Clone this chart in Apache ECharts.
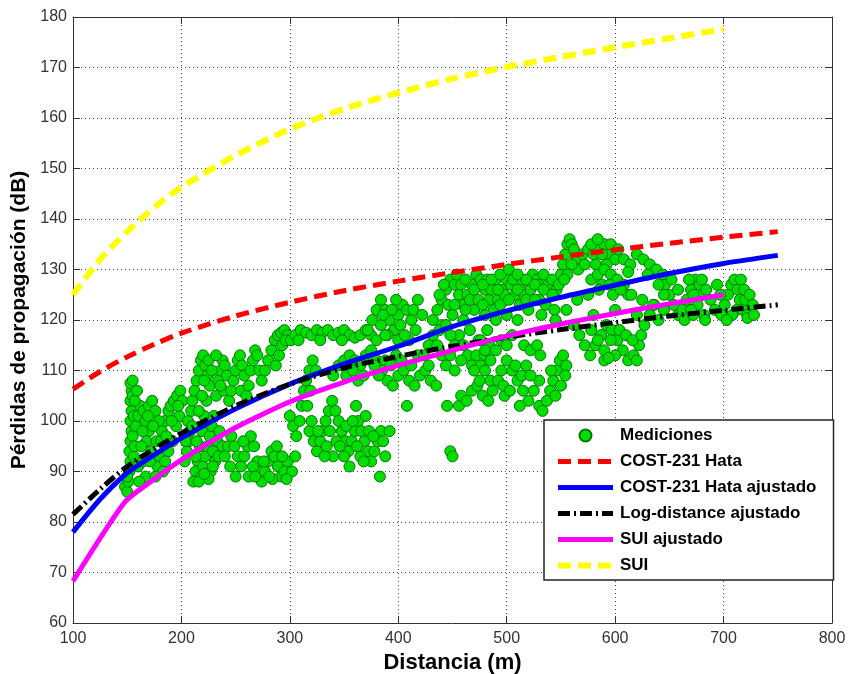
<!DOCTYPE html>
<html>
<head>
<meta charset="utf-8">
<script src="https://cdn.jsdelivr.net/npm/echarts@6/dist/echarts.min.js"></script>
<style>
  html, body { margin: 0; padding: 0; background: #fff; }
  #chart { width: 848px; height: 674px; }
</style>
</head>
<body>
<div id="chart"></div>
<script>
// distancias de los modelos (m)
const distModelos = [100, 125, 150, 175, 200, 250, 300, 350, 400, 450, 500, 550, 600, 650, 700, 750];
const costHata     = [106.3, 109.8, 112.7, 115.2, 117.4, 120.8, 123.5, 125.8, 127.7, 129.4, 131.0, 132.5, 133.9, 135.2, 136.4, 137.5];
const costHataAj   = [78.0, 84.5, 89.7, 93.3, 96.6, 102.4, 107.3, 111.3, 114.8, 118.7, 121.8, 124.5, 126.9, 129.2, 131.2, 132.8];
const logDistAj    = [81.5, 86.5, 91.0, 94.5, 97.6, 103.0, 107.3, 110.5, 112.8, 114.8, 116.6, 118.1, 119.5, 120.8, 121.9, 123.0];

const distSui  = [100, 125, 150, 175, 200, 250, 300, 350, 400, 450, 500, 550, 600, 650, 700];
const sui      = [125.0, 132.0, 137.5, 142.3, 146.3, 152.6, 157.8, 161.8, 165.0, 167.8, 170.1, 172.1, 174.0, 175.8, 177.6];

const distSuiAj = [100, 148, 175, 200, 250, 300, 350, 400, 450, 500, 550, 600, 650, 700];
const suiAj     = [68.3, 84.0, 88.5, 92.3, 98.7, 103.8, 107.7, 111.0, 114.0, 116.8, 119.2, 121.3, 123.2, 125.0];

const nombres = ['Mediciones', 'COST-231 Hata', 'COST-231 Hata ajustado', 'Log-distance ajustado', 'SUI ajustado', 'SUI'];

// mediciones [distancia, perdidas]
const mediciones = [
  [148,87],[150,86],[151,88],[152,90],[153,92],[152,94],[153,96],[154,98],[153,100],[154,102],
  [153,104],[154,106],[153,107.5],[155,108],[155,105],[156,101],[155,97],[150,89],[156,93],[157,95],
  [158,99],[160,101],[162,103],[165,102],[167,100],[170,98],[168,96],[172,94],[175,92],[178,91],
  [180,93],[177,96],[182,98],[185,100],[188,102],[190,103],[193,104],[196,105],[199,106],[201,104],
  [198,101],[195,99],[192,96],[188,94],[185,92],[183,90],[170,103],[173,104],[176,102],[179,100],
  [163,95],[160,91],[165,92],[167,89],
  [157,104],[159,106],[164,98],[169,101],[174,99],[181,96],[186,97],[191,100],[197,103],[171,92],
  [176,89],[161,88],
  [203,92],[205,94],[207,96],[208,98],[206,100],[209,102],[210,104],[212,106],[214,108],[216,110],
  [218,112],[220,113],[222,111],[224,109],[226,107],[223,104],[221,101],[219,98],[217,95],[215,92],
  [213,90],[211,88],[218,89],[220,91],[222,93],[224,95],[226,97],[228,99],[230,101],[229,94],
  [231,92],[227,90],[225,88.5],[233,96],[235,98],[232,105],[234,108],[236,110],[238,112],[240,111],
  [242,109],[239,106],[244,104],[246,106],[248,108],[250,110],[252,112],[254,113],[256,111],[258,109],
  [255,106],[260,105],[262,107],[264,110],[266,112],[268,114],[270,113],[272,110],
  [204,96],[210,99],[214,96],[216,102],[219,105],[221,108],[225,112],[228,110],[232,113],[236,107],
  [213,93],[216,88],[221,89.5],[229,91],[234,93],[238,95],
  [240,93],[243,95],[246,97],[249,95],[252,93],[255,91],[258,93],[261,95],[264,97],[267,95],
  [270,92],[272,90],[274,88],[277,90],[280,92],[283,94],[286,93],[289,91],[292,89],[295,90],
  [298,92],[262,89],[266,91],[284,88.5],[302,90],[305,93],
  [245,91],[250,89],[257,96],[268,89],[276,92],[281,89],[288,95],[293,93],[297,88.5],
  [274,108],[277,110],[280,112],[283,114],[286,116],[289,117],[292,117.5],[295,118],[298,117],[287,111],
  [290,113],[293,115],[296,116],
  [301,116],[305,117],[310,118],[315,117.5],[320,117],[325,118],[330,117.5],[335,118],[340,117],[345,117.5],
  [350,118],[355,117],[360,116.5],[365,117],[370,118],[375,117],[308,116],[328,116],[348,116],
  [300,101],[303,99],[306,97],[309,100],[311,103],[313,106],[315,108],[318,110],[321,112],[324,110],
  [318,98],[322,96],[325,94],[328,96],[330,98],[333,100],[336,102],[339,104],[342,102],[345,100],
  [348,98],[351,96],[354,94],[357,96],[360,98],[363,100],[366,98],[369,96],[372,94],[375,92],
  [378,94],[381,96],[384,98],[334,95],[343,96],[352,99],[361,103],[370,101],[340,93],[355,91],
  [365,93],[383,89],[392,98],
  [320,100],[326,98],[332,93],[337,98],[346,95],[350,93],[358,100],[362,95],[368,92],[373,98],
  [377,97],[386,96],[388,93],[316,103],[319,106],
  [340,109],[345,111],[350,112],[355,113],[360,112],[365,111],[370,113],[375,114],[380,112],[385,110],
  [390,108],[395,107],[400,109],[405,110],[410,108],[415,107],[420,109],[425,110],[430,108],[435,107],
  [352,109],[358,110],[363,108],[368,109],[378,111],[382,109],[388,112],[393,111],[398,113],[403,112],
  [412,111],[418,113],
  [372,118],[376,120],[380,122],[384,124],[388,122],[392,120],[396,118],[400,121],[404,123],[408,122],
  [412,120],[416,118],[380,116],[390,117],[400,116],[410,116],
  [384,119],[388,117],[394,122],[398,124],[402,119],[406,117],[414,122],[418,124],[422,121],[386,121],
  [408,103],[448,94],[450,93],[445,103],[456,103],
  [432,120],[436,122],[440,124],[444,126],[448,128],[452,127],[456,125],[460,123],[464,125],[468,127],
  [472,129],[476,128],[480,126],[484,124],[488,122],[492,124],[496,126],[500,128],[504,127],[508,125],
  [512,123],[516,125],[520,127],[524,129],[528,128],[440,119],[450,121],[460,120],[470,122],[480,121],
  [490,120],[500,121],[510,120],[520,122],[530,124],
  [438,125],[442,127],[446,123],[454,129],[458,127],[462,128],[466,124],[470,126],[474,124],[478,123],
  [482,128],[486,126],[490,128],[494,123],[498,125],[502,124],[506,128],[510,126],[514,128],[518,124],
  [522,126],[526,124],[530,127],[534,129],[538,127],[542,128],[546,126],[452,123],[462,122],[492,126],
  [532,121],
  [424,113],[428,115],[432,117],[436,115],[440,113],[444,111],[448,113],[452,115],[456,117],[460,115],
  [464,113],[468,111],[472,113],[476,111],[480,113],[484,115],[428,111],[438,118],[448,117],[458,112],
  [466,118],[474,116],[482,118],[444,119],[452,110],
  [458,105],[463,104],[468,106],[473,107],[478,105],[483,104],[487,106],[470,110],[475,108],[480,110],
  [485,108],
  [495,110],[500,112],[505,110],[510,108],[515,106],[520,104],[525,106],[530,108],[498,105],[512,103],
  [492,108],[497,107],[503,106],[508,111],[514,109],[518,111],[522,109],
  [516,115],[522,114],[528,115],[531,113],
  [476,116],[480,114],[485,112],[490,114],[495,116],[500,115],[505,117],
  [530,103],[533,102],[537,104],[540,106],[543,108],[546,110],[549,112],[552,113],[555,111],
  [541,110],[545,105],[550,107],[554,109],
  [548,127],[550,129],[552,131],[554,133],[556,135],[558,136],[560,135],[562,134],[564,132],[566,130],
  [560,131],[556,129],[553,128],
  [570,133],[575,134],[580,133],[585,134],[590,135],[595,133],[600,132],[572,131],[582,131],[592,131],
  [578,135],[584,136],[588,133],[596,135],[603,134],
  [478,127],[486,128],[494,129],[502,130],[510,129],[518,128],[526,127],[534,126],[542,125],[536,123],
  [544,122],
  [608,132],[614,131],[620,133],[626,132],[632,131],[638,130],[644,129],[612,129.5],[630,129],
  [578,128],[584,129],[590,130],[596,129],[602,128],[608,127],[612,125],[588,127],[598,125],
  [646,127],[650,125],[654,123],[658,121],[662,122],[666,124],[670,126],[674,128],[678,127],[680,125],
  [664,120],[672,121],
  [640,127],[645,125],[652,128],[658,126],[668,128],[672,125],[676,123],[680,128],[684,126],[688,124],
  [692,122],[670,122],[682,121],[683,120],
  [698,121],[701,123],[704,125],[707,127],[710,128],[713,126],[715,124],[712,122],[708,121],[703,120],
  [718,122],[720,124],[722,121],
  [694,127],[697,125],[716,128],[719,126],[724,125],[727,123],[722,120.4],[728,121],
  [562,119],[567,117],[572,115],[577,113],[582,115],[587,117],[592,119],[597,118],[602,116],[607,114],
  [612,112],[617,113],[622,115],[600,113],[590,112],
  [578,118],[584,116],[590,114],[596,116],[604,118],[610,117],[616,116],[620,112],[624,117],[594,112.5],
  [627,119],[632,121],[636,123],
  [545,120],[555,122],[565,124],[575,125],[585,126],[595,127],[605,126],[615,125],[625,124],[635,123],
  [645,122],[580,121],[600,122],[620,121],[640,120]
];

function pares(xs, ys) {
  return xs.map((x, i) => [x, ys[i]]);
}

const chart = echarts.init(document.getElementById('chart'));

const ejeX = {
  type: 'value', min: 100, max: 800, interval: 100,
  axisLine: { show: true, onZero: false, lineStyle: { color: '#333', width: 1 } },
  axisTick: { show: true, inside: true, length: 7, lineStyle: { color: '#333' } }
};
const ejeY = {
  type: 'value', min: 60, max: 180, interval: 10,
  axisLine: { show: true, onZero: false, lineStyle: { color: '#333', width: 1 } },
  axisTick: { show: true, inside: true, length: 7, lineStyle: { color: '#333' } }
};

// leyenda: lineas sin simbolo
const anchoLeyenda = [0, 5, 5, 5, 5, 6];
const datosLeyenda = nombres.map((n, i) => i === 0 ? { name: n } : {
  name: n,
  itemStyle: { opacity: 0 },
  lineStyle: { width: anchoLeyenda[i] }
});

chart.setOption({
  animation: false,
  backgroundColor: '#fff',
  grid: { left: 73, right: 16, top: 17, bottom: 51, outerBoundsMode: 'none' },
  xAxis: [
    Object.assign({}, ejeX, {
      position: 'bottom',
      name: 'Distancia (m)', nameLocation: 'middle', nameGap: 27,
      nameTextStyle: { fontFamily: 'Liberation Sans', fontSize: 22, fontWeight: 'bold', color: '#000' },
      axisLabel: { margin: 8, fontFamily: 'Liberation Sans', fontSize: 16, color: '#333' },
      splitLine: { show: true, lineStyle: { type: [1, 3], color: '#444' } }
    }),
    Object.assign({}, ejeX, { position: 'top', axisLabel: { show: false }, splitLine: { show: false } })
  ],
  yAxis: [
    Object.assign({}, ejeY, {
      position: 'left',
      name: 'Pérdidas de propagación (dB)', nameLocation: 'middle', nameGap: 38,
      nameTextStyle: { fontFamily: 'Liberation Sans', fontSize: 21, fontWeight: 'bold', color: '#000' },
      axisLabel: { margin: 6, fontFamily: 'Liberation Sans', fontSize: 16, color: '#333' },
      splitLine: { show: true, lineStyle: { type: [1, 3], color: '#444' } }
    }),
    Object.assign({}, ejeY, { position: 'right', axisLabel: { show: false }, splitLine: { show: false } })
  ],
  legend: {
    orient: 'vertical',
    left: 544, top: 420,
    backgroundColor: '#fff',
    borderColor: '#222', borderWidth: 1.5, borderRadius: 0,
    padding: [7, 17, 6, 11],
    itemWidth: 55, itemHeight: 12, itemGap: 9,
    textStyle: { fontFamily: 'Liberation Sans', fontSize: 17, fontWeight: 'bold', color: '#000', lineHeight: 16, padding: [0, 0, 0, 2] },
    data: datosLeyenda
  },
  series: [
    {
      name: nombres[0], type: 'scatter', symbol: 'circle', symbolSize: 11,
      itemStyle: { color: '#00dd00', borderColor: '#007a00', borderWidth: 1, opacity: 1 },
      data: mediciones
    },
    {
      name: nombres[1], type: 'line', showSymbol: false, symbol: 'none', smooth: 0.3,
      lineStyle: { color: '#ff0000', width: 5, type: [13, 7], cap: 'butt' },
      itemStyle: { color: '#ff0000' },
      data: pares(distModelos, costHata)
    },
    {
      name: nombres[2], type: 'line', showSymbol: false, symbol: 'none', smooth: 0.3,
      lineStyle: { color: '#0000ff', width: 5 },
      itemStyle: { color: '#0000ff' },
      data: pares(distModelos, costHataAj)
    },
    {
      name: nombres[3], type: 'line', showSymbol: false, symbol: 'none', smooth: 0.3,
      lineStyle: { color: '#000000', width: 5, type: [12, 4, 2, 4], cap: 'butt' },
      itemStyle: { color: '#000000' },
      data: pares(distModelos, logDistAj)
    },
    {
      name: nombres[4], type: 'line', showSymbol: false, symbol: 'none', smooth: 0.2,
      lineStyle: { color: '#ff00ff', width: 5 },
      itemStyle: { color: '#ff00ff' },
      data: pares(distSuiAj, suiAj)
    },
    {
      name: nombres[5], type: 'line', showSymbol: false, symbol: 'none', smooth: 0.3,
      lineStyle: { color: '#ffff00', width: 6, type: [13, 7], cap: 'butt' },
      itemStyle: { color: '#ffff00' },
      data: pares(distSui, sui)
    }
  ]
});
</script>
</body>
</html>
